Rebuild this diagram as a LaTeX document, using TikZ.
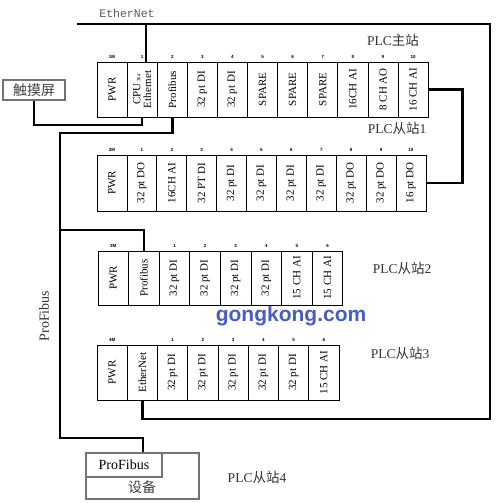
\documentclass[tikz,border=0pt]{standalone}
\usepackage{fontspec}
\setmainfont{Liberation Serif}
\setsansfont{Liberation Sans}
\setmonofont{Liberation Mono}
\newfontfamily\cjk{Noto Sans CJK SC}
\usetikzlibrary{calc}

\begin{document}
\begin{tikzpicture}[
    x=1pt, y=-1pt,
    module/.style={draw, line width=0.8pt, inner sep=0pt, minimum width=30pt, minimum height=55pt, font=\fontsize{11}{12}\selectfont},
    num/.style={font=\fontsize{4.5}{5}\selectfont\sffamily\bfseries, inner sep=0.5pt},
    cable/.style={line width=2.6pt},
    greybox/.style={draw=black!55, line width=1.2pt, inner sep=0pt, text=black!75, font=\fontsize{14}{15}\selectfont},
    station/.style={font=\fontsize{13.5}{14}\selectfont, text=black!80}
]
\useasboundingbox (0,0) rectangle (499,503);

% --- PLC主站: 11 Module ---
\foreach \txt/\num [count=\i] in {PWR/1M, {\shortstack{CPU\,{\tiny 364}\\Ethernet}}/1, Profibus/2,
    32 pt DI/3, 32 pt DI/4, SPARE/5, SPARE/6, SPARE/7, 16CH AI/8, 8 CH AO/9, 16 CH AI/10}
  \node[module, minimum width=30.1pt, label={[num, label distance=2.5pt]above:\num}] (m\i)
    at ({97+30.1*(\i-0.5)},89.5) {\rotatebox{90}{\txt}};

% --- PLC从站1 ---
\foreach \txt/\num [count=\i] in {PWR/2M, 32 pt DO/1, 16CH AI/2, 32 PT DI/3, 32 pt DI/4,
    32 pt DI/5, 32 pt DI/6, 32 pt DI/7, 32 pt DO/8, 32 pt DO/9, 16 pt DO/10}
  \node[module, minimum width=29.9pt, minimum height=56pt, label={[num, label distance=2.5pt]above:\num}] (s1m\i)
    at ({97+29.9*(\i-0.5)},183) {\rotatebox{90}{\txt}};

% --- PLC从站2 ---
\foreach \txt/\num [count=\i] in {PWR/3M, Profibus/{}, 32 pt DI/1, 32 pt DI/2, 32 pt DI/3,
    32 pt DI/4, 15 CH AI/5, 15 CH AI/6}
  \node[module, minimum width=30.6pt, minimum height=54pt, label={[num, label distance=2.5pt]above:\num}] (s2m\i)
    at ({98+30.6*(\i-0.5)},278) {\rotatebox{90}{\txt}};

% --- PLC从站3 ---
\foreach \txt/\num [count=\i] in {PWR/4M, EtherNet/{}, 32 pt DI/1, 32 pt DI/2, 32 pt DI/3,
    32 pt DI/4, 32 pt DI/5, 15 CH AI/6}
  \node[module, minimum width=30.25pt, label={[num, label distance=2.5pt]above:\num}] (s3m\i)
    at ({97+30.25*(\i-0.5)},372.5) {\rotatebox{90}{\txt}};

% --- Touch screen and device ---
\node[greybox, minimum width=62pt, minimum height=20pt] (hmi) at (34,90) {\cjk 触摸屏};
\node[greybox, minimum width=113pt, minimum height=46pt] (dev) at (142.5,476) {};
\node[greybox, text=black, minimum width=76pt, minimum height=24pt] (pfb) at (124,465) {ProFibus};
\node[font=\fontsize{14}{15}\selectfont\cjk, text=black!75] (devtxt) at (142,487.5) {设备};

% --- Texte ---
\node[font=\fontsize{11.5}{12}\selectfont\ttfamily, text=black!65] (ethtxt) at (127,13) {EtherNet};
\node[station] (lmain) at (393,40) {PLC{\cjk 主站}};
\node[station] (ls1) at (397,128) {PLC{\cjk 从站}1};
\node[station] (ls2) at (402,268) {PLC{\cjk 从站}2};
\node[station] (ls3) at (400,353) {PLC{\cjk 从站}3};
\node[station] (ls4) at (257,477) {PLC{\cjk 从站}4};
\node[font=\fontsize{14}{15}\selectfont, text=black!80, rotate=90] (pbtxt) at (44,316) {ProFibus};
\node[font=\fontsize{21}{22}\selectfont\sffamily\bfseries, text={rgb,255:red,70;green,92;blue,200}] (wm) at (291,316) {gongkong.com};

% --- Coordinates for the cables ---
\coordinate (ethL) at (77,24);
\coordinate (ethR) at (490,24);
\coordinate (ethB) at (490,419);
\coordinate (hmiC) at (34,125);
\coordinate (pbA) at (60,133);
\coordinate (pbB) at (60,438);
\coordinate (pbC) at (60,230);

% --- EtherNet ---
\draw[cable] (ethL) -- (ethR) -- (ethB) -| (s3m2.south);
\draw[cable] ([xshift=4pt]m2.north) -- ([xshift=4pt]m2.north |- ethL);
\draw[cable] (hmi.south) -- (hmiC) -| (m2.south);

% --- ProFibus ---
\draw[cable] (m3.south) |- (pbA) -- (pbB) -| ([xshift=19pt]pfb.north);
\draw[cable] (pbC) -| (s2m2.north);
\draw[cable] (m11.east) -- ++(34,0) |- (s1m11.east);

\end{tikzpicture}
\end{document}
